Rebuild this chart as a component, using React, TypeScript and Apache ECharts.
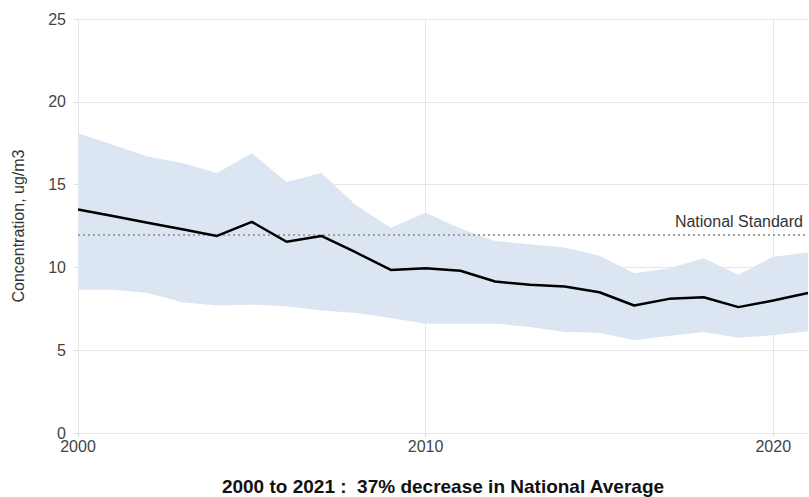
import React, { useEffect, useRef } from "react";
import * as echarts from "echarts";

const years = ["2000","2001","2002","2003","2004","2005","2006","2007","2008","2009","2010","2011","2012","2013","2014","2015","2016","2017","2018","2019","2020","2021"];
const nationalAverage = [13.5, 13.1, 12.7, 12.3, 11.9, 12.75, 11.55, 11.9, 10.9, 9.85, 9.95, 9.8, 9.15, 8.95, 8.85, 8.5, 7.7, 8.1, 8.2, 7.6, 8.0, 8.45];
const upper90 = [18.1, 17.4, 16.7, 16.3, 15.7, 16.9, 15.15, 15.7, 13.75, 12.4, 13.3, 12.35, 11.6, 11.4, 11.2, 10.7, 9.65, 9.95, 10.55, 9.55, 10.65, 10.9];
const lower10 = [8.65, 8.65, 8.45, 7.9, 7.7, 7.75, 7.65, 7.4, 7.25, 6.95, 6.6, 6.6, 6.6, 6.4, 6.1, 6.05, 5.6, 5.85, 6.1, 5.75, 5.9, 6.15];
const nationalStandard = 12;
const standardLabel = "National Standard";
const yAxisName = "Concentration, ug/m3";
const footerText = "2000 to 2021 :  37% decrease in National Average";

const FONT = "'Liberation Sans', Arial, sans-serif";

export default function App() {
  const ref = useRef<HTMLDivElement>(null);
  useEffect(() => {
    if (!ref.current) return;
    const chart = echarts.init(ref.current, null, { renderer: "svg" });
    const bandWidth = upper90.map((u, i) => +(u - lower10[i]).toFixed(3));
    const every10 = (i: number) => i % 10 === 0;
    chart.setOption({
      animation: false,
      backgroundColor: "#ffffff",
      textStyle: { fontFamily: FONT },
      grid: { left: 78, right: 1, top: 19, bottom: 64, outerBoundsMode: "none" },
      xAxis: {
        type: "category",
        data: years,
        boundaryGap: false,
        name: footerText,
        nameLocation: "middle",
        nameGap: 44,
        nameTextStyle: { fontFamily: FONT, fontSize: 19, fontWeight: "bold", color: "#111" },
        axisLine: { show: false },
        axisTick: { show: true, length: 4, interval: every10, lineStyle: { color: "#dddddd" } },
        axisLabel: { interval: every10, margin: 5, fontSize: 16, color: "#444", fontFamily: FONT },
        splitLine: { show: true, interval: every10, lineStyle: { color: "#e6e6e6", width: 1 } },
      },
      yAxis: {
        type: "value",
        min: 0,
        max: 25,
        interval: 5,
        name: yAxisName,
        nameLocation: "middle",
        nameGap: 52,
        nameRotate: 90,
        nameTextStyle: { fontFamily: FONT, fontSize: 16, color: "#333" },
        axisLine: { show: false },
        axisTick: { show: true, length: 4, lineStyle: { color: "#dddddd" } },
        axisLabel: { margin: 12, fontSize: 16, color: "#444", fontFamily: FONT },
        splitLine: { show: true, lineStyle: { color: "#e6e6e6", width: 1 } },
      },
      series: [
        {
          name: "lower",
          type: "line",
          stack: "band",
          data: lower10,
          symbol: "none",
          lineStyle: { opacity: 0 },
          silent: true,
        },
        {
          name: "band",
          type: "line",
          stack: "band",
          data: bandWidth,
          symbol: "none",
          lineStyle: { opacity: 0 },
          areaStyle: { color: "#dce6f2", opacity: 1 },
          silent: true,
        },
        {
          name: "National Average",
          type: "line",
          data: nationalAverage,
          symbol: "none",
          lineStyle: { color: "#000000", width: 2.5 },
          z: 5,
          markLine: {
            silent: true,
            symbol: "none",
            data: [{ yAxis: nationalStandard }],
            lineStyle: { color: "#a0a0a0", type: [2, 3], width: 2 },
            label: {
              show: true,
              position: "insideEndTop",
              formatter: standardLabel,
              fontSize: 16,
              color: "#333",
              fontFamily: FONT,
              distance: 5,
            },
          },
        },
      ],
    });
    return () => chart.dispose();
  }, []);
  return <div ref={ref} style={{ position: "absolute", left: 0, top: 0, width: 809, height: 497 }} />;
}
